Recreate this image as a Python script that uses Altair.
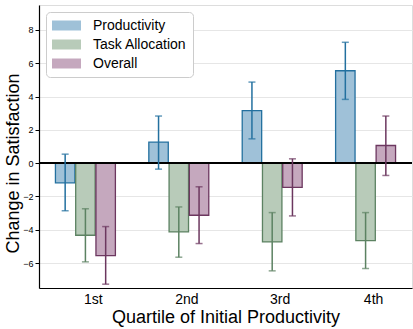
import altair as alt
import pandas as pd

quartiles = ["1st", "2nd", "3rd", "4th"]
series = ["Productivity", "Task Allocation", "Overall"]

prod_mean = [-1.18, 1.26, 3.16, 5.55]
prod_lo = [-2.86, -0.36, 1.46, 3.83]
prod_hi = [0.54, 2.83, 4.87, 7.26]

task_mean = [-4.33, -4.13, -4.73, -4.65]
task_lo = [-5.93, -5.65, -6.47, -6.33]
task_hi = [-2.74, -2.63, -2.97, -2.97]

over_mean = [-5.55, -3.13, -1.46, 1.06]
over_lo = [-7.27, -4.83, -3.17, -0.74]
over_hi = [-3.81, -1.42, 0.26, 2.83]

fill_colors = ["#9fc1d8", "#b8cbb9", "#c5a8be"]
edge_colors = ["#23709f", "#5c8262", "#6c375f"]

rows = []
for name, m, lo, hi in [
    (series[0], prod_mean, prod_lo, prod_hi),
    (series[1], task_mean, task_lo, task_hi),
    (series[2], over_mean, over_lo, over_hi),
]:
    for q, a, b, c in zip(quartiles, m, lo, hi):
        rows.append({"Quartile": q, "Series": name, "mean": a, "lo": b, "hi": c})
df = pd.DataFrame(rows)

FONT = "Liberation Sans"

x_enc = alt.X(
    "Quartile:N",
    sort=quartiles,
    scale=alt.Scale(paddingInner=0.358, paddingOuter=0.176),
    axis=alt.Axis(
        title="Quartile of Initial Productivity",
        labelAngle=0,
        ticks=False,
        labelOffset=8,
        labelFontSize=14,
        labelPadding=4,
        titleFontSize=18,
        titlePadding=2,
        titleFontWeight="normal",
        labelColor="black",
        titleColor="black",
        domainColor="black",
        domainWidth=1.2,
        grid=False,
    ),
)
xoff = alt.XOffset("Series:N", sort=series, scale=alt.Scale(domain=series, paddingInner=0.04))
y_scale = alt.Scale(domain=[-7.5, 9.5], nice=False, zero=False)

base = alt.Chart(df)

bars = base.mark_bar(strokeWidth=1.3).encode(
    x=x_enc,
    xOffset=xoff,
    y=alt.Y(
        "mean:Q",
        scale=y_scale,
        axis=alt.Axis(
            title="Change in Satisfaction",
            values=[-6, -4, -2, 0, 2, 4, 6, 8],
            format="d",
            labelFontSize=9,
            tickSize=4,
            tickColor="black",
            labelColor="black",
            labelPadding=2,
            titleFontSize=18,
            titleFontWeight="normal",
            titleColor="black",
            titlePadding=0,
            titleY=158,
            domainColor="black",
            domainWidth=1.2,
            grid=True,
            gridColor="#e6e6e6",
            gridWidth=1,
        ),
    ),
    y2=alt.datum(0),
    fill=alt.Fill(
        "Series:N",
        sort=series,
        scale=alt.Scale(domain=series, range=fill_colors),
        legend=alt.Legend(
            title=None,
            orient="top-left",
            offset=7,
            labelFontSize=14,
            labelColor="black",
            labelExpr="datum.label + '\u00a0\u00a0\u00a0'",
            symbolType="M-2,-0.69L2,-0.69L2,0.69L-2,0.69Z",
            symbolSize=210,
            symbolStrokeWidth=0,
            symbolOpacity=1,
            symbolOffset=7,
            labelOffset=19,
            rowPadding=4,
            padding=6,
            fillColor="white",
            strokeColor="#cccccc",
            cornerRadius=4,
        ),
    ),
    stroke=alt.Stroke(
        "Series:N", sort=series, scale=alt.Scale(domain=series, range=edge_colors), legend=None
    ),
)

zero = alt.Chart(df).mark_rule(color="black", strokeWidth=1.1).encode(y=alt.datum(0))

err = base.mark_rule(strokeWidth=1.5).encode(
    x=alt.X("Quartile:N", sort=quartiles),
    xOffset=xoff,
    y=alt.Y("lo:Q"),
    y2="hi:Q",
    color=alt.Color("Series:N", sort=series, scale=alt.Scale(domain=series, range=edge_colors), legend=None),
)
cap_lo = base.mark_tick(orient="horizontal", size=7, thickness=1.5).encode(
    x=alt.X("Quartile:N", sort=quartiles),
    xOffset=xoff,
    y=alt.Y("lo:Q"),
    color=alt.Color("Series:N", sort=series, scale=alt.Scale(domain=series, range=edge_colors), legend=None),
)
cap_hi = base.mark_tick(orient="horizontal", size=7, thickness=1.5).encode(
    x=alt.X("Quartile:N", sort=quartiles),
    xOffset=xoff,
    y=alt.Y("hi:Q"),
    color=alt.Color("Series:N", sort=series, scale=alt.Scale(domain=series, range=edge_colors), legend=None),
)

chart = (
    alt.layer(bars, zero, err, cap_lo, cap_hi)
    .resolve_scale(color="independent")
    .properties(
        width=373,
        height=283,
        autosize=alt.AutoSizeParams(type="none"),
        padding={"left": 39, "top": 5, "right": 1, "bottom": 41},
        background="white",
    )
    .configure_view(stroke="black", strokeWidth=1.2)
    .configure(font=FONT)
)

chart.save("out.html", embed_options={"renderer": "svg", "actions": False})
